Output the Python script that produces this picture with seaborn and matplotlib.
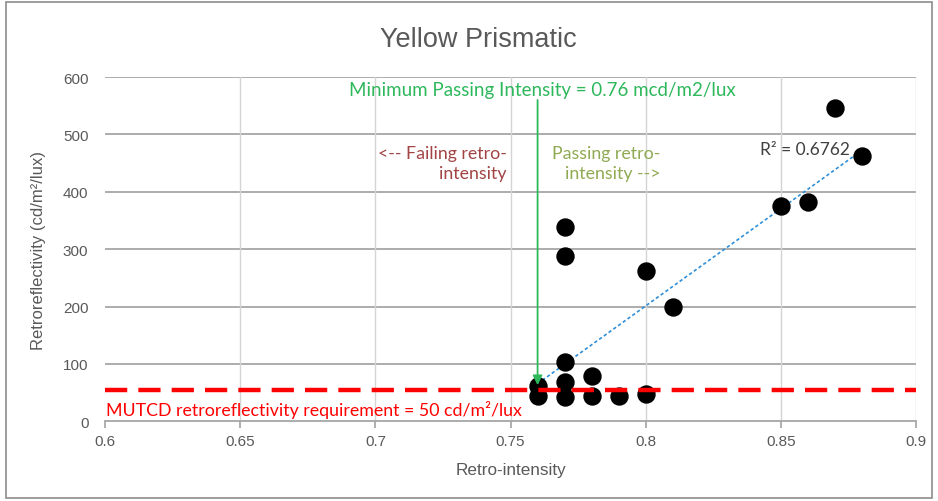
import numpy as np
import pandas as pd
import matplotlib
matplotlib.use("Agg")
import matplotlib.pyplot as plt
import seaborn as sns

# data
retro_intensity = [0.76, 0.76, 0.77, 0.77, 0.77, 0.77, 0.77, 0.78, 0.78,
                   0.79, 0.80, 0.80, 0.81, 0.85, 0.86, 0.87, 0.88]
retroreflectivity = [62, 44, 339, 288, 103, 68, 42, 78, 44,
                     44, 47, 262, 199, 375, 382, 546, 462]
x_ticks = [0.6, 0.65, 0.7, 0.75, 0.8, 0.85, 0.9]
x_tick_labels = ["0.6", "0.65", "0.7", "0.75", "0.8", "0.85", "0.9"]
y_ticks = [0, 100, 200, 300, 400, 500, 600]
mutcd_level = 55
min_pass = 0.76

df = pd.DataFrame({"x": retro_intensity, "y": retroreflectivity})

sns.set_theme(style="white")
plt.rcParams["font.family"] = ["Liberation Sans", "DejaVu Sans"]
note_font = ["Lato", "DejaVu Sans"]

fig = plt.figure(figsize=(9.38, 5.02), dpi=100)
ax = fig.add_axes([0.112, 0.159, 0.8646, 0.6853])

# outer frame
fig.patches.append(plt.Rectangle((0.006, 0.006), 0.988, 0.988, transform=fig.transFigure,
                                 fill=False, edgecolor="#8c8c8c", linewidth=1.2))

ax.set_xlim(0.6, 0.9)
ax.set_ylim(0, 600)
ax.set_xticks(x_ticks)
ax.set_xticklabels(x_tick_labels)
ax.set_yticks(y_ticks)
for v in y_ticks[1:]:
    ax.axhline(v, color="#a6a6a6", linewidth=1.3, zorder=0)
for v in x_ticks[1:]:
    ax.axvline(v, color="#d4d4d4", linewidth=1, zorder=0)

for s in ["top", "right", "left"]:
    ax.spines[s].set_visible(False)
ax.spines["bottom"].set_color("#a6a6a6")
ax.spines["bottom"].set_linewidth(1.3)
ax.tick_params(axis="x", bottom=True, length=5, color="#a6a6a6", labelsize=11, labelcolor="#595959", pad=4)
ax.tick_params(axis="y", left=False, labelsize=11, labelcolor="#595959", pad=6)

# linear trendline
k, b = np.polyfit(df["x"], df["y"], 1)
xs = np.array([min(retro_intensity), max(retro_intensity)])
ax.plot(xs, k * xs + b, linestyle=(0, (2, 1.5)), color="#2f8fd8", linewidth=1.2, zorder=2)

sns.scatterplot(data=df, x="x", y="y", ax=ax, color="black", s=150, edgecolor="black", zorder=3)

# MUTCD requirement
ax.axhline(mutcd_level, color="#ff0000", linestyle=(0, (5, 2.5)), linewidth=3.2, zorder=4)
ax.text(0.6005, 22, "MUTCD retroreflectivity requirement = 50 cd/m\u00b2/lux", color="#ff0000",
        fontsize=12.8, family=note_font, ha="left", va="center")

# minimum passing arrow
ax.annotate("", xy=(min_pass, 58), xytext=(min_pass, 565),
            arrowprops=dict(arrowstyle="-|>", color="#2eb85c", lw=1.3, mutation_scale=14), zorder=5)
ax.text(0.7617, 578, "Minimum Passing Intensity = 0.76 mcd/m2/lux", color="#2eb85c",
        fontsize=13.5, family=note_font, ha="center", va="center")

ax.text(0.7485, 450, "<-- Failing retro-\nintensity", color="#a24444", fontsize=12.8,
        family=note_font, ha="right", va="center", multialignment="right", linespacing=1.3)
ax.text(0.7655, 450, "Passing retro-\nintensity -->", color="#8faa52", fontsize=12.8,
        family=note_font, ha="left", va="center", multialignment="right", linespacing=1.3)
ax.text(0.8755, 474, "R\u00b2 = 0.6762", color="#404040", fontsize=12.5,
        family=note_font, ha="right", va="center")

ax.set_xlabel("Retro-intensity", fontsize=12.3, color="#595959", labelpad=10)
ax.set_ylabel("Retroreflectivity (cd/m\u00b2/lux)", fontsize=12, color="#595959", labelpad=12)
fig.text(0.51, 0.92, "Yellow Prismatic", fontsize=19.5, color="#595959", ha="center", va="center")

fig.savefig("out.png", dpi=100)
